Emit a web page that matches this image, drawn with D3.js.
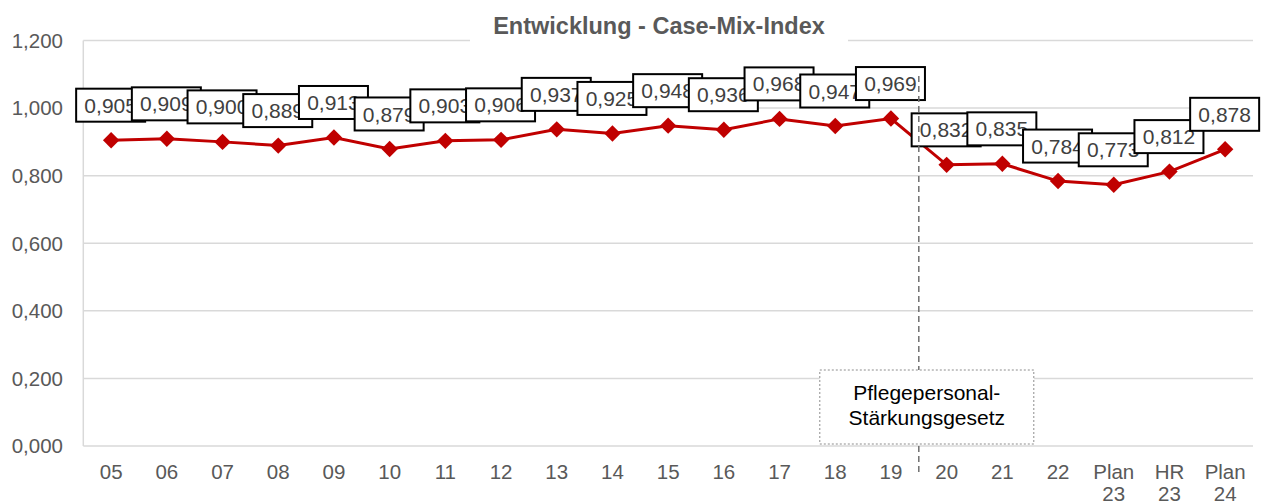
<!DOCTYPE html>
<html lang="de">
<head>
<meta charset="UTF-8">
<title>Entwicklung - Case-Mix-Index</title>
<style>
  body { margin: 0; background: #fff; }
  text { font-family: "Liberation Sans", Arial, sans-serif; }
</style>
</head>
<body>
<svg width="1261" height="504"></svg>
<script src="https://d3js.org/d3.v7.min.js"></script>
<script>
// Daten
var categories = ["05","06","07","08","09","10","11","12","13","14","15","16","17","18","19","20","21","22","Plan\n23","HR\n23","Plan\n24"];
var values = [0.905,0.909,0.900,0.889,0.913,0.879,0.903,0.906,0.937,0.925,0.948,0.936,0.968,0.947,0.969,0.832,0.835,0.784,0.773,0.812,0.878];
var yTicks = [0, 0.2, 0.4, 0.6, 0.8, 1.0, 1.2];
var title = "Entwicklung - Case-Mix-Index";
var markerBefore = "20"; // Gesetz ab 2020
var noteLines = ["Pflegepersonal-", "Stärkungsgesetz"];

var svg = d3.select("svg");
var pL = 83.3, pR = 1253, pT = 40.5, pB = 446;
var fmt = function(v){ return d3.format(".3f")(v).replace(".", ","); };

var x = d3.scaleBand().domain(categories).range([pL, pR]).padding(0);
var y = d3.scaleLinear().domain([0, 1.2]).range([pB, pT]);
var cx = function(c){ return x(c) + x.bandwidth() / 2; };

// Gitterlinien
svg.append("g").selectAll("line")
  .data(yTicks).enter().append("line")
  .attr("x1", pL).attr("x2", pR)
  .attr("y1", function(d){ return y(d); }).attr("y2", function(d){ return y(d); })
  .attr("stroke", "#d9d9d9").attr("stroke-width", 1.5);

// linke Achse
svg.append("line").attr("x1", pL).attr("x2", pL).attr("y1", pT).attr("y2", pB)
  .attr("stroke", "#d9d9d9").attr("stroke-width", 1.5);

// Y-Beschriftung
svg.append("g").selectAll("text")
  .data(yTicks).enter().append("text")
  .attr("x", 63).attr("y", function(d){ return y(d); })
  .attr("dy", "0.36em").attr("text-anchor", "end")
  .attr("font-size", 20.5).attr("fill", "#595959")
  .text(function(d){ return fmt(d); });

// X-Beschriftung
var xl = svg.append("g").selectAll("text")
  .data(categories).enter().append("text")
  .attr("text-anchor", "middle").attr("font-size", 20.5).attr("fill", "#595959");
xl.each(function(d){
  var t = d3.select(this);
  d.split("\n").forEach(function(s, i){
    t.append("tspan").attr("x", cx(d)).attr("y", 479 + i * 21.5).text(s);
  });
});

// Titel
svg.append("rect").attr("x", 470).attr("y", 30).attr("width", 378).attr("height", 20).attr("fill", "#fff");
svg.append("text").attr("x", 659).attr("y", 34).attr("text-anchor", "middle")
  .attr("font-size", 23.5).attr("font-weight", "bold").attr("fill", "#595959")
  .text(title);

// Linie
var line = d3.line().x(function(d, i){ return cx(categories[i]); }).y(function(d){ return y(d); });
svg.append("path").datum(values).attr("d", line)
  .attr("fill", "none").attr("stroke", "#c00000").attr("stroke-width", 3);

svg.append("g").selectAll("path")
  .data(values).enter().append("path")
  .attr("d", d3.symbol().type(d3.symbolSquare).size(135))
  .attr("transform", function(d, i){ return "translate(" + cx(categories[i]) + "," + y(d) + ") rotate(45)"; })
  .attr("fill", "#c00000");

// Datenbeschriftungen
var lab = svg.append("g").selectAll("g")
  .data(values).enter().append("g")
  .attr("transform", function(d, i){ return "translate(" + (cx(categories[i]) - 0.5) + "," + (y(d) - 35) + ")"; });
lab.append("rect").attr("x", -34.5).attr("y", -16.5).attr("width", 69).attr("height", 33)
  .attr("fill", "#fff").attr("stroke", "#000").attr("stroke-width", 2);
lab.append("text").attr("text-anchor", "middle").attr("dy", "0.36em")
  .attr("font-size", 21).attr("fill", "#404040")
  .text(function(d){ return fmt(d); });

// Trennlinie
var xm = x(markerBefore);
svg.append("line").attr("x1", xm).attr("x2", xm).attr("y1", 76).attr("y2", 474)
  .attr("stroke", "#6f6f6f").attr("stroke-width", 1.5).attr("stroke-dasharray", "6,4");

// Hinweisbox
var nb = svg.append("g").attr("transform", "translate(" + xm + ",407)");
nb.append("rect").attr("x", -99).attr("y", -37).attr("width", 214).attr("height", 74)
  .attr("fill", "#fff").attr("stroke", "#8c8c8c").attr("stroke-width", 1).attr("stroke-dasharray", "2,2");
nb.selectAll("text").data(noteLines).enter().append("text")
  .attr("x", 8).attr("y", function(d, i){ return -7 + i * 25; })
  .attr("text-anchor", "middle").attr("font-size", 21).attr("fill", "#000")
  .text(function(d){ return d; });
</script>
</body>
</html>
